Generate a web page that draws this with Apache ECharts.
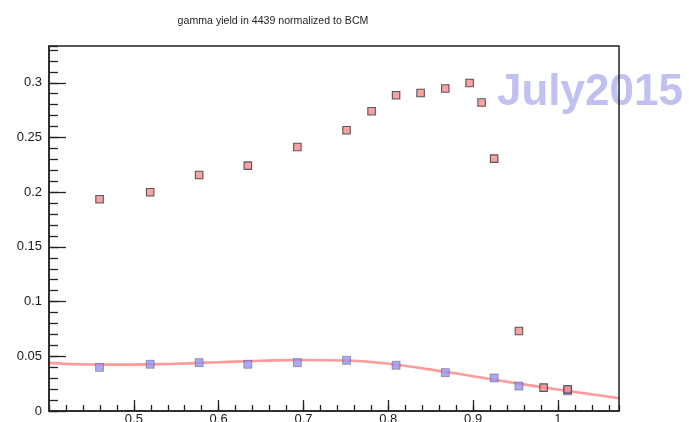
<!DOCTYPE html>
<html>
<head>
<meta charset="utf-8">
<script src="https://cdn.jsdelivr.net/npm/echarts@6/dist/echarts.min.js"></script>
<style>html,body{margin:0;padding:0;background:#fff}#c{width:689px;height:422px}</style>
</head>
<body>
<div id="c"></div>
<script>
const titleText = 'gamma yield in 4439 normalized to BCM';
const stampText = 'July2015';
const redX = [0.4596, 0.5193, 0.577, 0.6344, 0.6928, 0.7508, 0.7803, 0.8092, 0.8381, 0.8672, 0.8959, 0.91, 0.9248, 0.954, 0.9831, 1.0114];
const redY = [0.1935, 0.1999, 0.2157, 0.2243, 0.2413, 0.2566, 0.2739, 0.2886, 0.2907, 0.2947, 0.2998, 0.2819, 0.2307, 0.0731, 0.0214, 0.0198];
const blueX = [0.4596, 0.5193, 0.577, 0.6344, 0.6928, 0.7508, 0.8092, 0.8672, 0.9248, 0.954, 1.0114];
const blueY = [0.0399, 0.0427, 0.0442, 0.0427, 0.0442, 0.0463, 0.0418, 0.0351, 0.0302, 0.0228, 0.0183];
const fitX = [0.4, 0.45, 0.5, 0.55, 0.6, 0.65, 0.7, 0.75, 0.8, 0.85, 0.9, 0.95, 1.0, 1.05, 1.072];
const fitY = [0.0440, 0.0425, 0.0424, 0.0432, 0.0446, 0.0459, 0.0466, 0.0461, 0.0432, 0.0378, 0.0318, 0.0255, 0.0196, 0.0141, 0.0117];
const xTickLabels = ['0.5', '0.6', '0.7', '0.8', '0.9', '1'];
const yTickLabels = ['0', '0.05', '0.1', '0.15', '0.2', '0.25', '0.3'];

const zip = (a, b) => a.map((v, i) => [v, b[i]]);
const X_MIN = 0.4, X_MAX = 1.072, Y_MIN = 0, Y_MAX = 0.3336;
const axisFont = {fontFamily: 'Liberation Sans, Arial, sans-serif', fontSize: 13, color: '#1a1a1a'};

function fmtX(v) {
  const s = String(Math.round(v * 10) / 10);
  return (Math.abs(v * 10 - Math.round(v * 10)) < 1e-6 && xTickLabels.includes(s)) ? s : '';
}
function fmtY(v) {
  const s = String(Math.round(v * 100) / 100);
  return (Math.abs(v * 20 - Math.round(v * 20)) < 1e-6 && yTickLabels.includes(s)) ? s : '';
}

const chart = echarts.init(document.getElementById('c'));
chart.setOption({
  animation: false,
  backgroundColor: '#fff',
  title: {
    text: titleText, left: 268, top: 11, textAlign: 'center',
    textStyle: {fontFamily: 'Liberation Sans, Arial, sans-serif', fontSize: 10.6, fontWeight: 'normal', color: '#1f1f1f'}
  },
  graphic: [{
    type: 'text', left: 497, top: 71, z: 1,
    style: {text: stampText, font: 'bold 44px "Liberation Sans", Arial, sans-serif', fill: 'rgba(150,150,232,0.6)'}
  }],
  grid: {left: 49, right: 70, top: 46, bottom: 11, containLabel: false, outerBoundsMode: 'none',
         show: true, borderColor: '#222', borderWidth: 1.5, backgroundColor: 'transparent', z: 5},
  xAxis: [
    {type: 'value', min: X_MIN, max: X_MAX, interval: 0.1, position: 'bottom', z: 6,
     axisLine: {show: true, onZero: false, lineStyle: {color: '#222', width: 1.5}},
     axisTick: {show: true, inside: true, length: 11, lineStyle: {color: '#222', width: 1.3}},
     splitLine: {show: false},
     axisLabel: Object.assign({margin: 2, formatter: fmtX, showMinLabel: false, showMaxLabel: false, hideOverlap: false}, axisFont)},
    {type: 'value', min: X_MIN, max: X_MAX, interval: 0.02, position: 'bottom', z: 6,
     axisLine: {show: false, onZero: false},
     axisTick: {show: true, inside: true, length: 6, lineStyle: {color: '#222', width: 1.3}},
     splitLine: {show: false}, axisLabel: {show: false}}
  ],
  yAxis: [
    {type: 'value', min: Y_MIN, max: Y_MAX, interval: 0.05, position: 'left', z: 6,
     axisLine: {show: true, onZero: false, lineStyle: {color: '#222', width: 1.5}},
     axisTick: {show: true, inside: true, length: 17, lineStyle: {color: '#222', width: 1.3}},
     splitLine: {show: false},
     axisLabel: Object.assign({margin: 7, formatter: fmtY, showMaxLabel: false}, axisFont)},
    {type: 'value', min: Y_MIN, max: Y_MAX, interval: 0.01, position: 'left', offset: 0, z: 6,
     axisLine: {show: false, onZero: false},
     axisTick: {show: true, inside: true, length: 9, lineStyle: {color: '#222', width: 1.3}},
     splitLine: {show: false}, axisLabel: {show: false}}
  ],
  series: [
    {type: 'line', name: 'fit', data: zip(fitX, fitY), smooth: true, showSymbol: false, symbol: 'none', z: 2,
     lineStyle: {color: '#ff9b9b', width: 2.6}},
    {type: 'scatter', name: 'blue', data: zip(blueX, blueY), symbol: 'rect', symbolSize: 8, z: 3,
     itemStyle: {color: '#9595f0', borderColor: 'rgba(40,40,60,0.55)', borderWidth: 0.8}},
    {type: 'scatter', name: 'red', data: zip(redX, redY), symbol: 'rect', symbolSize: 7.5, z: 4,
     itemStyle: {color: '#f78b8b', borderColor: '#333', borderWidth: 1.1}}
  ]
});
</script>
</body>
</html>
